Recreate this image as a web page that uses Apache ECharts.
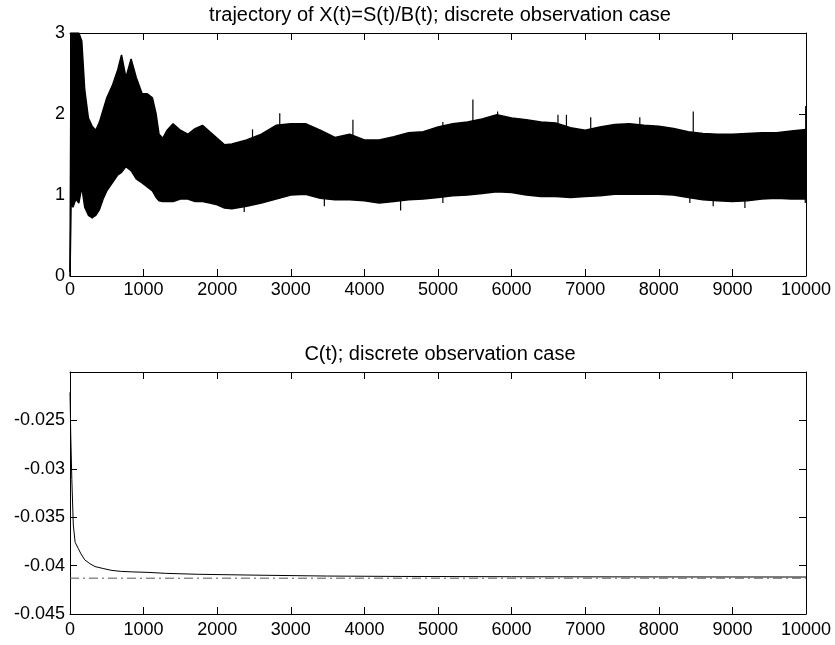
<!DOCTYPE html>
<html>
<head>
<meta charset="utf-8">
<script src="https://cdn.jsdelivr.net/npm/echarts@6/dist/echarts.min.js"></script>
<style>
  html, body { margin: 0; padding: 0; background: #fff; }
  #chart { width: 835px; height: 645px; }
</style>
</head>
<body>
<div id="chart"></div>
<script>
// ---- data ----
// top panel: time points and the upper / lower edge of the bundle of trajectories
const bandT = [0, 15, 40, 80, 120, 160, 200, 250, 300, 350, 400, 450, 500, 575, 650, 700, 760, 830, 900, 980,
  1050, 1120, 1170, 1210, 1260, 1320, 1400, 1500, 1600, 1700, 1800, 1900, 2000, 2100, 2200, 2400, 2600, 2800,
  3000, 3200, 3400, 3600, 3800, 4000, 4200, 4400, 4600, 4800, 5000, 5200, 5400, 5600, 5800, 6000, 6200, 6400,
  6600, 6800, 7000, 7200, 7400, 7600, 7800, 8000, 8200, 8400, 8600, 8800, 9000, 9200, 9400, 9600, 9800, 10000]
const bandUpper = [0.05, 3, 3, 3, 3, 2.9, 2.3, 1.95, 1.85, 1.8, 1.9, 2.05, 2.2, 2.35, 2.55, 2.73, 2.45, 2.68, 2.45, 2.25,
  2.25, 2.2, 2.0, 1.75, 1.7, 1.8, 1.88, 1.8, 1.75, 1.82, 1.86, 1.78, 1.7, 1.62, 1.63, 1.68, 1.75, 1.86,
  1.88, 1.88, 1.8, 1.71, 1.75, 1.68, 1.68, 1.72, 1.77, 1.78, 1.84, 1.88, 1.9, 1.94, 1.99, 1.95, 1.93, 1.9,
  1.89, 1.83, 1.8, 1.84, 1.87, 1.88, 1.86, 1.85, 1.82, 1.78, 1.76, 1.75, 1.75, 1.76, 1.77, 1.77, 1.79, 1.81]
const bandLower = [0, 0.9, 0.85, 0.95, 0.9, 1.1, 0.85, 0.75, 0.72, 0.75, 0.82, 0.95, 1.05, 1.15, 1.25, 1.28, 1.35, 1.3, 1.2, 1.15,
  1.1, 1.05, 0.97, 0.93, 0.92, 0.92, 0.92, 0.95, 0.95, 0.92, 0.92, 0.9, 0.88, 0.84, 0.83, 0.86, 0.9, 0.95,
  1.0, 1.01, 0.96, 0.94, 0.94, 0.93, 0.9, 0.92, 0.94, 0.95, 0.97, 0.99, 1.0, 1.02, 1.04, 1.03, 1.0, 0.98,
  0.98, 0.97, 0.98, 0.99, 1.01, 1.01, 1.01, 1.01, 1.0, 0.97, 0.94, 0.93, 0.92, 0.93, 0.95, 0.96, 0.95, 0.95]
// single excursions that stick out of the bundle
const spikeT = [2480, 2850, 3844, 5066, 5474, 5810, 6630, 6745, 7075, 7742, 8468, 9996,
  304, 2367, 3456, 4492, 5066, 8422, 8739, 9170, 9990]
const spikeV = [1.81, 2.01, 1.93, 1.9, 2.18, 2.03, 1.99, 1.99, 1.96, 1.96, 2.03, 2.1,
  0.71, 0.79, 0.86, 0.81, 0.9, 0.9, 0.86, 0.84, 0.9]

// bottom panel: C(t) and its limit value
const cT = [0, 10, 25, 45, 70, 110, 150, 200, 270, 340, 450, 570, 700, 850, 1060, 1300, 1750, 2200, 2650, 3500,
  4500, 6000, 8000, 10000]
const cValues = [-0.0221, -0.0265, -0.0311, -0.0358, -0.0376, -0.0382, -0.0388, -0.0394, -0.0398, -0.0401,
  -0.0403, -0.0405, -0.0406, -0.04065, -0.0407, -0.0408, -0.0409, -0.04095, -0.0410, -0.04108,
  -0.04112, -0.04115, -0.04117, -0.04118]
const cLimit = -0.0413

const xTicks = { min: 0, max: 10000, interval: 1000 }
const topTitle = 'trajectory of X(t)=S(t)/B(t); discrete observation case'
const bottomTitle = 'C(t); discrete observation case'

// ---- helpers ----
const font = '"Liberation Sans", Arial, sans-serif'
const pairs = (xs, ys) => xs.map((x, i) => [x, ys[i]])
const bandMid = 1.4 // a level that lies inside the bundle everywhere

// MATLAB-like axis: box all round, ticks pointing inward
const makeX = (gridIndex, position, showLabel, margin) => ({
  type: 'value', gridIndex, position, ...xTicks,
  axisLine: { show: true, onZero: false, lineStyle: { color: '#000', width: 1 } },
  axisTick: { show: true, inside: true, length: 7, lineStyle: { color: '#000' } },
  axisLabel: {
    show: showLabel, color: '#000', fontFamily: font, fontSize: 18, margin: margin,
    formatter: v => String(v)
  },
  splitLine: { show: false }
})
const makeY = (gridIndex, position, showLabel, opts) => ({
  type: 'value', gridIndex, position, ...opts,
  axisLine: { show: true, onZero: false, lineStyle: { color: '#000', width: 1 } },
  axisTick: { show: true, inside: true, length: 7, lineStyle: { color: '#000' } },
  axisLabel: {
    show: showLabel, color: '#000', fontFamily: font, fontSize: 18, margin: 5, showMaxLabel: opts.showMaxLabel,
    formatter: v => String(parseFloat(v.toFixed(4)))
  },
  splitLine: { show: false }
})

// filled polygon between the two edges, placed through the axis scales
const renderBand = (params, api) => {
  const top = bandT.map((t, i) => api.coord([t, bandUpper[i]]))
  const bottom = bandT.map((t, i) => api.coord([t, bandLower[i]])).reverse()
  return { type: 'polygon', shape: { points: top.concat(bottom) }, style: { fill: '#000' } }
}
// one thin vertical stroke from inside the bundle out to the spike value
const renderSpike = (params, api) => {
  const a = api.coord([api.value(0), bandMid])
  const b = api.coord([api.value(0), api.value(1)])
  return { type: 'line', shape: { x1: a[0], y1: a[1], x2: b[0], y2: b[1] }, style: { stroke: '#000', lineWidth: 1.2 } }
}

const option = {
  animation: false,
  backgroundColor: '#fff',
  title: [
    { text: topTitle, left: 435, top: 0, textAlign: 'center',
      textStyle: { fontFamily: font, fontSize: 20, fontWeight: 'normal', color: '#000' } },
    { text: bottomTitle, left: 435, top: 339, textAlign: 'center',
      textStyle: { fontFamily: font, fontSize: 20, fontWeight: 'normal', color: '#000' } }
  ],
  grid: [
    { left: 70, right: 29, top: 33, height: 243 },
    { left: 70, right: 29, top: 372, height: 242 }
  ],
  xAxis: [
    makeX(0, 'bottom', true, 5), makeX(0, 'top', false, 5),
    makeX(1, 'bottom', true, 7), makeX(1, 'top', false, 7)
  ],
  yAxis: [
    makeY(0, 'left', true, { min: 0, max: 3, interval: 1 }),
    makeY(0, 'right', false, { min: 0, max: 3, interval: 1 }),
    makeY(1, 'left', true, { min: -0.045, max: -0.02, interval: 0.005, showMaxLabel: false }),
    makeY(1, 'right', false, { min: -0.045, max: -0.02, interval: 0.005 })
  ],
  series: [
    { type: 'custom', xAxisIndex: 0, yAxisIndex: 0, renderItem: renderBand,
      data: [[bandT[0], bandLower[0]]], encode: { x: 0, y: 1 } },
    { type: 'custom', xAxisIndex: 0, yAxisIndex: 0, renderItem: renderSpike,
      data: pairs(spikeT, spikeV), encode: { x: 0, y: 1 } },
    { type: 'line', xAxisIndex: 0, yAxisIndex: 0, symbol: 'none',
      data: pairs(bandT, bandUpper), lineStyle: { color: '#000', width: 1.5 } },
    { type: 'line', xAxisIndex: 0, yAxisIndex: 0, symbol: 'none',
      data: pairs(bandT, bandLower), lineStyle: { color: '#000', width: 1.5 } },
    // bottom panel
    { type: 'line', xAxisIndex: 2, yAxisIndex: 2, symbol: 'none',
      data: pairs(cT, cValues), lineStyle: { color: '#000', width: 1 } },
    { type: 'line', xAxisIndex: 2, yAxisIndex: 2, symbol: 'none',
      data: [[xTicks.min, cLimit], [xTicks.max, cLimit]],
      lineStyle: { color: '#555', width: 1, type: [9, 4, 2, 4] } }
  ]
}

const chart = echarts.init(document.getElementById('chart'))
chart.setOption(option)
</script>
</body>
</html>
